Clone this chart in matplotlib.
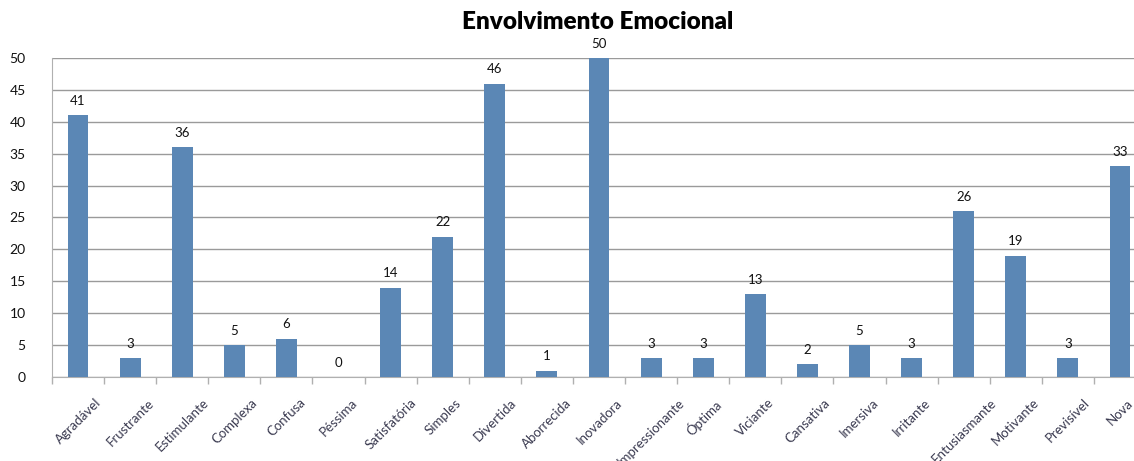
import matplotlib
matplotlib.use("Agg")
import matplotlib.pyplot as plt
import numpy as np

categories = ["Agradável", "Frustrante", "Estimulante", "Complexa", "Confusa", "Péssima",
              "Satisfatória", "Simples", "Divertida", "Aborrecida", "Inovadora",
              "Impressionante", "Óptima", "Viciante", "Cansativa", "Imersiva", "Irritante",
              "Entusiasmante", "Motivante", "Previsível", "Nova"]
counts = [41, 3, 36, 5, 6, 0, 14, 22, 46, 1, 50, 3, 3, 13, 2, 5, 3, 26, 19, 3, 33]
y_ticks = [0, 5, 10, 15, 20, 25, 30, 35, 40, 45, 50]

plt.rcParams['font.family'] = ['Lato', 'DejaVu Sans']

W, H = 1134, 461
fig = plt.figure(figsize=(W / 100, H / 100), dpi=100)
ax = fig.add_axes([52 / W, (H - 377) / H, 1094 / W, 319 / H])

bar_color = "#5B87B5"
x = np.arange(len(categories))
ax.bar(x, counts, width=0.4, color=bar_color, zorder=3)

for xi, v in zip(x, counts):
    ax.annotate(str(v), (xi, v), xytext=(0, 6), textcoords="offset points",
                ha="center", va="bottom", fontsize=9.5, color="#111111")

ax.set_xlim(-0.5, len(categories) - 0.5)
ax.set_ylim(0, 50)
ax.set_yticks(y_ticks)
ax.set_yticklabels([str(t) for t in y_ticks], fontsize=10, color="#111111")
ax.tick_params(axis="y", length=0, pad=19)
ax.yaxis.grid(True, color="#9a9a9a", linewidth=1.0, zorder=0)

# category boundary ticks on the x axis, labels at the centres
ax.set_xticks(np.arange(len(categories) + 1) - 0.5, minor=False)
ax.set_xticklabels([])
ax.tick_params(axis="x", length=5, color="#b0b0b0", width=1)
ax.set_xticks(x, minor=True)
ax.set_xticklabels(categories, minor=True, rotation=45, ha="center", va="top",
                   fontsize=9.5, color="#3a3a50")
ax.tick_params(axis="x", which="minor", length=0, pad=14)

for side in ["top", "right"]:
    ax.spines[side].set_visible(False)
ax.spines["left"].set_color("#b0b0b0")
ax.spines["bottom"].set_color("#b0b0b0")

fig.text(598 / W, 1 - 22 / H, "Envolvimento Emocional", ha="center", va="center",
         fontsize=17.5, fontweight="heavy", color="#000000")

fig.savefig("out.png", dpi=100, facecolor="white")
